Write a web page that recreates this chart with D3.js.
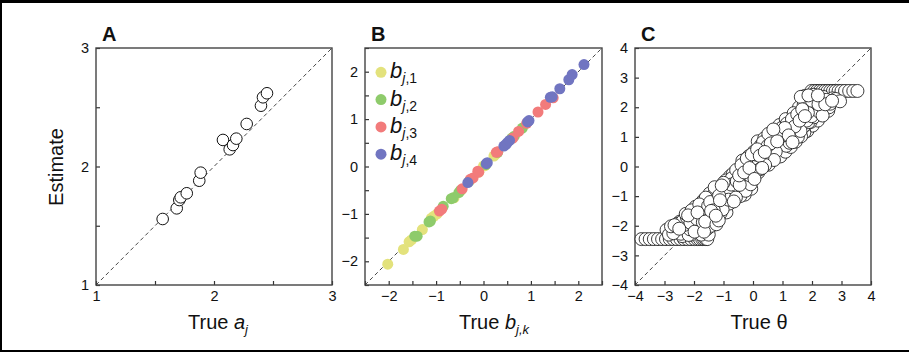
<!DOCTYPE html>
<html>
<head>
<meta charset="utf-8">
<script src="https://cdn.jsdelivr.net/npm/d3@7"></script>
<style>
  body { margin: 0; background: #fff; }
  svg { display: block; font-family: "Liberation Sans", Arial, sans-serif; }
</style>
</head>
<body>
<svg id="chart" width="909" height="362"></svg>
<script>
// ---- data ----
// panel A: discrimination a_j
const aTrue = [1.565, 1.684, 1.706, 1.718, 1.769, 1.875, 1.887, 2.076, 2.133, 2.161, 2.189, 2.277, 2.398, 2.415, 2.449];
const aEst  = [1.557, 1.647, 1.717, 1.740, 1.774, 1.880, 1.948, 2.224, 2.145, 2.181, 2.235, 2.359, 2.513, 2.584, 2.618];

// panel B: thresholds b_j,k (true, estimate) per k
const bLabels = ['1', '2', '3', '4'];
const bColors = ['#e3e27c', '#8ecb6b', '#f27b7b', '#7175c1'];
const b1True = [-2.02, -1.69, -1.57, -1.52, -1.29, -1.10, -1.05, -0.98, -0.62, -0.47, -0.10, 0.00, 0.03, 0.22, 0.26];
const b1Est  = [-2.06, -1.75, -1.59, -1.55, -1.33, -1.09, -1.05, -1.00, -0.66, -0.50, -0.12, 0.01, 0.02, 0.22, 0.26];
const b2True = [-1.45, -1.40, -1.15, -1.12, -0.85, -0.68, -0.64, -0.52, -0.48, -0.30, 0.05, 0.30, 0.60, 0.65, 0.82];
const b2Est  = [-1.47, -1.47, -1.17, -1.15, -0.84, -0.68, -0.66, -0.55, -0.50, -0.31, 0.04, 0.30, 0.60, 0.64, 0.81];
const b3True = [-0.93, -0.88, -0.45, -0.28, -0.22, -0.12, -0.10, 0.27, 0.30, 0.62, 0.74, 0.91, 1.15, 1.31, 1.47];
const b3Est  = [-0.94, -0.90, -0.47, -0.27, -0.24, -0.10, -0.12, 0.30, 0.31, 0.60, 0.74, 0.91, 1.15, 1.31, 1.45];
const b4True = [-0.33, 0.06, 0.08, 0.43, 0.47, 0.50, 0.55, 0.93, 0.96, 1.41, 1.45, 1.61, 1.80, 1.87, 2.12];
const b4Est  = [-0.34, 0.06, 0.08, 0.43, 0.46, 0.50, 0.55, 0.94, 0.97, 1.46, 1.47, 1.64, 1.83, 1.94, 2.15];

// panel C: person parameters theta, [true, estimate]
const thetaLowCap = [[-3.78,-2.45],[-3.64,-2.45],[-3.5,-2.45],[-3.36,-2.45],[-3.22,-2.45],[-3.08,-2.45],[-2.95,-2.45],
  [-2.82,-2.45],[-2.7,-2.45],[-2.58,-2.45],[-2.46,-2.45],[-2.34,-2.45],[-2.22,-2.45],[-2.1,-2.45],[-1.98,-2.45],
  [-1.88,-2.45],[-1.8,-2.45],[-1.72,-2.45],[-1.66,-2.45],[-1.6,-2.45],[-1.55,-2.45],
  [-2.4,-2.35],[-2.1,-2.3],[-1.75,-2.3],[-1.5,-2.3]];
const thetaBand = [[-2.93,-2.14],[-2.78,-2.02],[-2.62,-2.18],[-2.55,-1.93],[-2.44,-2.27],[-2.38,-1.84],[-2.31,-2.05],
  [-2.24,-1.72],[-2.18,-2.31],[-2.12,-1.9],[-2.06,-1.58],[-1.98,-2.2],[-1.95,-1.36],[-1.9,-1.77],[-1.84,-2.05],
  [-1.79,-1.49],[-1.73,-1.21],[-1.7,-1.88],[-1.64,-1.62],[-1.6,-1.05],[-1.55,-2.1],[-1.52,-1.33],[-1.47,-0.91],
  [-1.44,-1.74],[-1.38,-1.16],[-1.33,-1.48],[-1.28,-0.82],[-1.24,-1.95],[-1.2,-1.27],[-1.15,-0.98],[-1.1,-1.58],
  [-1.06,-0.64],[-1.01,-0.96],[-0.97,-1.3],[-0.92,-0.47],[-0.88,-0.78],[-0.83,-1.12],[-0.78,-0.33],[-0.74,-0.61],
  [-0.7,-0.95],[-0.65,-1.18],[-0.61,-0.46],[-0.57,-0.12],[-0.52,-0.77],[-0.47,-0.3],[-0.43,-1.0],[-0.39,0.05],
  [-0.34,-0.54],[-0.3,-0.2],[-0.25,-0.82],[-0.21,0.27],[-0.17,-0.38],[-0.12,-0.05],[-0.08,-0.6],[-0.04,0.41],
  [0.01,0.0],[0.05,-0.42],[0.09,0.22],[0.14,0.58],[0.18,-0.2],[0.23,0.36],[0.27,0.72],[0.31,-0.05],[0.36,0.16],
  [0.4,0.49],[0.45,0.88],[0.49,0.3],[0.53,0.06],[0.58,0.62],[0.62,1.02],[0.67,0.41],[0.71,0.22],[0.75,0.8],
  [0.8,1.17],[0.84,0.56],[0.88,0.95],[0.93,0.34],[0.97,1.3],[1.02,0.72],[1.06,1.06],[1.1,0.5],[1.15,1.45],
  [1.19,0.85],[1.23,1.21],[1.28,0.66],[1.32,1.6],[1.36,1.0],[1.41,1.35],[1.45,0.84],[1.5,1.76],[1.54,1.18],
  [1.58,1.55],[1.63,1.02],[1.67,1.93],[1.71,1.34],[1.76,1.7],[1.8,2.2],[1.84,1.2],[1.89,1.5],[1.93,1.88],
  [1.97,2.3],[2.02,1.38],[2.06,1.66],[2.1,2.05],[2.15,2.32],[2.2,1.55],[2.25,1.84],[2.3,2.18],[2.36,1.72],
  [2.42,2.0],[2.48,2.25],[2.55,1.88],[2.62,2.12],[2.7,2.3],[2.95,2.2],
  [-2.7,-2.25],[-2.5,-2.1],[-2.35,-1.98],[-2.2,-1.65],[-2.02,-1.8],[-1.88,-1.55],[-1.76,-1.35],[-1.62,-1.86],
  [-1.58,-1.42],[-1.42,-1.5],[-1.35,-0.98],[-1.26,-1.66],[-1.18,-0.72],[-1.12,-1.14],[-1.03,-1.45],[-0.95,-0.62],
  [-0.86,-0.95],[-0.8,-1.25],[-0.72,-0.4],[-0.63,-0.8],[-0.55,-0.5],[-0.49,-0.98],[-0.41,-0.18],[-0.32,-0.7],
  [-0.27,0.12],[-0.19,-0.45],[-0.1,0.2],[-0.02,-0.3],[0.03,0.5],[0.12,0.05],[0.2,0.45],[0.29,0.15],[0.34,0.82],
  [0.43,0.3],[0.5,0.7],[0.56,0.45],[0.65,0.9],[0.73,0.6],[0.78,1.0],[0.86,0.75],[0.95,1.12],[1.0,0.9],[1.08,1.3],
  [1.13,0.7],[1.21,1.05],[1.26,1.5],[1.34,0.82],[1.39,1.2],[1.47,1.62],[1.52,1.0],[1.6,1.4],[1.69,1.75],
  [1.74,1.15],[1.82,1.55],[1.91,2.1],[1.99,1.7],[2.08,1.9],[2.18,2.2],[2.28,2.0],[2.4,2.15],
  [-2.85,-2.3],[-2.66,-1.98],[-2.48,-1.86],[-2.28,-1.6],[-2.14,-2.12],[-2.08,-1.48],[-1.93,-1.98],[-1.82,-1.28],
  [-1.68,-1.14],[-1.66,-2.2],[-1.5,-1.6],[-1.45,-1.2],[-1.4,-2.0],[-1.3,-0.7],[-1.22,-1.4],[-1.16,-1.82],
  [-1.08,-0.86],[-1.0,-0.55],[-0.94,-1.05],[-0.9,-1.55],[-0.84,-0.5],[-0.76,-0.82],[-0.68,-0.24],[-0.66,-0.6],
  [-0.58,-1.05],[-0.5,-0.2],[-0.45,-0.62],[-0.37,-0.35],[-0.36,0.2],[-0.28,-0.95],[-0.23,-0.1],[-0.14,0.35],
  [-0.11,-0.3],[-0.06,-0.75],[0.0,0.25],[0.07,-0.15],[0.11,0.4],[0.16,0.85],[0.22,-0.1],[0.25,0.55],[0.32,0.3],
  [0.38,0.95],[0.41,0.05],[0.47,0.55],[0.52,1.1],[0.55,0.2],[0.6,0.78],[0.64,0.35],[0.69,1.25],[0.77,0.5],
  [0.82,0.85],[0.9,1.4],[0.92,0.6],[0.99,1.05],[1.04,0.6],[1.11,1.6],[1.17,1.15],[1.24,0.8],[1.3,1.3],[1.38,1.8],
  [1.43,1.05],[1.49,1.45],[1.56,2.0],[1.61,1.2],[1.65,1.62],[1.72,2.1],[1.78,1.4],[1.86,1.82],[1.95,1.5],
  [2.0,2.22],[2.12,1.75],[2.22,2.1],[2.32,1.85],[2.45,2.1],[2.58,2.0],[2.68,2.22],[2.8,2.28],
  [1.62,2.35],[1.75,2.38],[1.88,2.4],[2.05,2.42],[2.2,2.4],[2.38,2.35]];
const thetaHighCap = [[1.98,2.55],[2.08,2.55],[2.17,2.55],[2.26,2.55],[2.35,2.55],[2.44,2.55],[2.53,2.55],
  [2.62,2.55],[2.71,2.55],[2.8,2.55],[2.9,2.55],[3.0,2.55],[3.12,2.55],[3.26,2.55],[3.4,2.55],[3.54,2.55]];

const aTicks = [1, 2, 3], aMinor = [1.5, 2.5];
const bTicks = [-2, -1, 0, 1, 2], bMinor = [-2.5, -1.5, -0.5, 0.5, 1.5, 2.5];
const cTicks = [-4, -3, -2, -1, 0, 1, 2, 3, 4];

// ---- drawing ----
const svg = d3.select('#chart');
const fmt = d => d < 0 ? '\u2212' + Math.abs(d) : String(d);

// outer frame
svg.append('rect').attr('x', 0).attr('y', 0).attr('width', 909).attr('height', 3).attr('fill', '#000');
svg.append('rect').attr('x', 0).attr('y', 0).attr('width', 2).attr('height', 352).attr('fill', '#000');
svg.append('rect').attr('x', 0).attr('y', 350).attr('width', 909).attr('height', 2).attr('fill', '#000');

const plotTop = 48, plotBottom = 285;

const makePanel = (props) => {
  const { left, right, domain, ticks, minor, letter } = props;
  const x = d3.scaleLinear().domain(domain).range([left, right]);
  const y = d3.scaleLinear().domain(domain).range([plotBottom, plotTop]);
  const g = svg.append('g');

  const styleAxis = sel => {
    sel.select('.domain').remove();
    sel.selectAll('line').attr('stroke', '#333').attr('stroke-width', 1.2);
    sel.selectAll('text').attr('font-size', 14.5).attr('fill', '#111').attr('font-family', null);
  };

  g.append('g').attr('transform', `translate(0,${plotBottom})`)
    .call(d3.axisBottom(x).tickValues(ticks).tickFormat(fmt).tickSizeInner(-4).tickSizeOuter(0).tickPadding(6))
    .call(styleAxis);
  g.append('g').attr('transform', `translate(${left},0)`)
    .call(d3.axisLeft(y).tickValues(ticks).tickFormat(fmt).tickSizeInner(-4).tickSizeOuter(0).tickPadding(7))
    .call(styleAxis);
  if (minor) {
    g.append('g').attr('transform', `translate(0,${plotBottom})`)
      .call(d3.axisBottom(x).tickValues(minor).tickFormat('').tickSizeInner(-4).tickSizeOuter(0))
      .call(styleAxis);
    g.append('g').attr('transform', `translate(${left},0)`)
      .call(d3.axisLeft(y).tickValues(minor).tickFormat('').tickSizeInner(-4).tickSizeOuter(0))
      .call(styleAxis);
  }

  // box
  g.append('rect')
    .attr('x', left).attr('y', plotTop)
    .attr('width', right - left).attr('height', plotBottom - plotTop)
    .attr('fill', 'none').attr('stroke', '#444').attr('stroke-width', 1.4);

  // identity line
  g.append('line')
    .attr('x1', x(domain[0])).attr('y1', y(domain[0]))
    .attr('x2', x(domain[1])).attr('y2', y(domain[1]))
    .attr('stroke', '#333').attr('stroke-width', 0.9).attr('stroke-dasharray', '4,3');

  g.append('text').attr('x', left + 6).attr('y', 41)
    .attr('font-size', 20).attr('font-weight', 'bold').attr('fill', '#111').text(letter);

  return { x, y, g };
};

// panel A
const pA = makePanel({ left: 96, right: 332, domain: [1, 3], ticks: aTicks, minor: aMinor, letter: 'A' });
pA.g.selectAll('.pt').data(aTrue.map((d, i) => [d, aEst[i]])).enter().append('circle')
  .attr('class', 'pt')
  .attr('cx', d => pA.x(d[0])).attr('cy', d => pA.y(d[1])).attr('r', 5.8)
  .attr('fill', '#fff').attr('stroke', '#111').attr('stroke-width', 1);

// panel B
const pB = makePanel({ left: 365, right: 602, domain: [-2.5, 2.5], ticks: bTicks, minor: bMinor, letter: 'B' });
const bSeries = [[b1True, b1Est], [b2True, b2Est], [b3True, b3Est], [b4True, b4Est]];
bSeries.forEach((s, k) => {
  pB.g.selectAll('.b' + k).data(s[0].map((d, i) => [d, s[1][i]])).enter().append('circle')
    .attr('class', 'b' + k)
    .attr('cx', d => pB.x(d[0])).attr('cy', d => pB.y(d[1])).attr('r', 5.5)
    .attr('fill', bColors[k]);
});
// legend
bLabels.forEach((lab, k) => {
  const yy = 72.3 + k * 27.3;
  pB.g.append('circle').attr('cx', 381).attr('cy', yy).attr('r', 5.5).attr('fill', bColors[k]);
  const t = pB.g.append('text').attr('x', 390).attr('y', yy + 6).attr('fill', '#111').attr('font-size', 22);
  t.append('tspan').attr('font-style', 'italic').text('b');
  t.append('tspan').attr('font-style', 'italic').attr('font-size', 14).attr('dy', 5).text('j');
  t.append('tspan').attr('font-size', 14).text(',' + lab);
});

// panel C -- band drawn in a mixed order so the overlaps look like the scanned cloud
const pC = makePanel({ left: 635, right: 871, domain: [-4, 4], ticks: cTicks, minor: null, letter: 'C' });
const nBand = thetaBand.length;
const bandMixed = d3.range(nBand).map(i => thetaBand[(i * 97) % nBand]);
const thetaAll = thetaLowCap.concat(thetaHighCap, bandMixed);
pC.g.selectAll('.th').data(thetaAll).enter().append('circle')
  .attr('class', 'th')
  .attr('cx', d => pC.x(d[0])).attr('cy', d => pC.y(d[1])).attr('r', 6.5)
  .attr('fill', '#fff').attr('stroke', '#1a1a1a').attr('stroke-width', 0.85);

// axis titles
const title = (x, parts) => {
  const t = svg.append('text').attr('x', x).attr('y', 329).attr('text-anchor', 'middle')
    .attr('font-size', 20).attr('fill', '#111');
  parts.forEach(p => {
    const s = t.append('tspan').text(p.t);
    if (p.i) s.attr('font-style', 'italic');
    if (p.sub) s.attr('font-size', 13).attr('dy', p.dy || 0);
  });
};
title(218, [{ t: 'True ' }, { t: 'a', i: true }, { t: 'j', i: true, sub: true, dy: 5 }]);
title(494, [{ t: 'True ' }, { t: 'b', i: true }, { t: 'j,k', i: true, sub: true, dy: 5 }]);
title(759, [{ t: 'True \u03b8' }]);

svg.append('text').attr('transform', 'translate(63,167) rotate(-90)')
  .attr('text-anchor', 'middle').attr('font-size', 20).attr('fill', '#111').text('Estimate');
</script>
</body>
</html>
